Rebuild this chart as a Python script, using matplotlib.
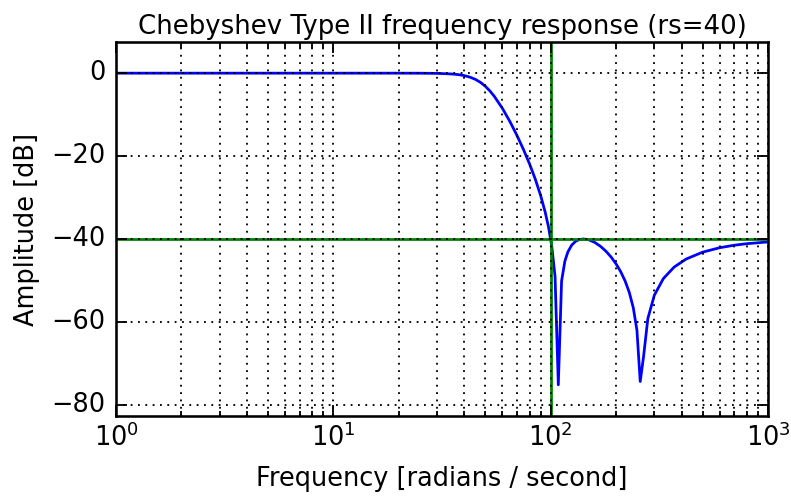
import matplotlib
matplotlib.use("Agg")
import matplotlib.pyplot as plt
from matplotlib.ticker import MultipleLocator

# Analog Chebyshev type II low-pass (order 4, rs=40 dB, cutoff 100 rad/s)
freq = [1, 5, 10, 15, 20, 25, 30, 35, 37.5, 40, 42.5, 45, 47.5, 50, 52.5, 55,
        60, 65, 70, 75, 80, 85, 90, 94.37, 97.71, 101.16, 104.74, 108.44,
        112.27, 116.24, 120, 125, 130, 135, 141.4, 150, 160, 170, 180, 190,
        200, 210, 220, 230, 240, 249.43, 258.26, 267.4, 280, 300, 330, 370,
        420, 500, 600, 700, 800, 1000]
amplitude_db = [0.0, 0.0, 0.0, 0.0, -0.002, -0.012, -0.053, -0.193, -0.343,
                -0.584, -0.953, -1.485, -2.212, -3.144, -4.272, -5.564, -8.51,
                -11.71, -15.04, -18.44, -21.93, -25.60, -29.59, -33.54, -37.09,
                -41.71, -49.0, -75.2, -50.13, -45.37, -43.13, -41.48, -40.605,
                -40.166, -40.0, -40.217, -40.874, -41.827, -43.011, -44.405,
                -46.02, -47.90, -50.13, -52.90, -56.61, -62.03, -74.4, -68.49,
                -59.19, -53.56, -49.56, -46.78, -44.85, -43.19, -42.11, -41.51,
                -41.14, -40.72]

cutoff = 100
stop_atten = -40

plt.style.use("classic")
plt.rcParams.update({
    "axes.autolimit_mode": "data",
    "font.family": ["DejaVu Sans"],
    "font.size": 14,
    "axes.titlesize": 14.2,
    "axes.labelsize": 14,
    "xtick.labelsize": 14,
    "ytick.labelsize": 14,
    "lines.linewidth": 1.5,
    "axes.linewidth": 1.4,
    "grid.linewidth": 1.0,
    "xtick.major.size": 6,
    "ytick.major.size": 6,
    "xtick.minor.size": 3,
    "ytick.minor.size": 3,
    "xtick.major.width": 1.0,
    "ytick.major.width": 1.0,
    "xtick.minor.width": 1.0,
    "ytick.minor.width": 1.0,
    "ytick.major.pad": 5.8,
})

fig = plt.figure(figsize=(791 / 132, 497 / 132), dpi=132, facecolor="white")
ax = fig.add_axes([116 / 791, 1 - 416 / 497, (768 - 116) / 791, (416 - 42) / 497])

ax.semilogx(freq, amplitude_db)
ax.set_title("Chebyshev Type II frequency response (rs=40)", pad=4.2)
ax.set_xlabel("Frequency [radians / second]", labelpad=7.7)
ax.set_ylabel("Amplitude [dB]", labelpad=6.2)
ax.margins(0, 0.1)
ax.grid(which="both", axis="both")
ax.axvline(cutoff, color="green")
ax.axhline(stop_atten, color="green")
ax.yaxis.set_major_locator(MultipleLocator(20))

fig.savefig("out.png", dpi=132, facecolor="white")
